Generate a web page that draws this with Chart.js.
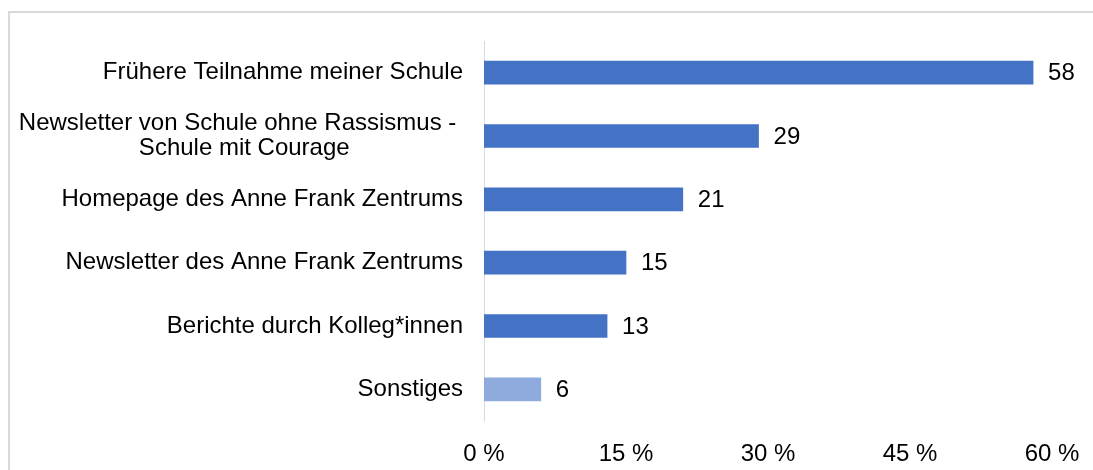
<!DOCTYPE html>
<html>
<head>
<meta charset="utf-8">
<script src="https://cdn.jsdelivr.net/npm/chart.js@4"></script>
<style>
  body { margin: 0; background: #fff; }
  #wrap { position: relative; width: 1093px; height: 470px; overflow: hidden; }
  #frame { position: absolute; left: 8px; top: 11px; width: 1200px; height: 600px;
           border-left: 2px solid #d9d9d9; border-top: 2px solid #d9d9d9; }
  #box { position: absolute; left: 0; top: 0; width: 1093px; height: 470px; }
</style>
</head>
<body>
<div id="wrap">
  <div id="frame"></div>
  <div id="box"><canvas id="myChart"></canvas></div>
</div>
<script>
var categories = [
  'Frühere Teilnahme meiner Schule',
  ['Newsletter von Schule ohne Rassismus - ', 'Schule mit Courage                 '],
  'Homepage des Anne Frank Zentrums',
  'Newsletter des Anne Frank Zentrums',
  'Berichte durch Kolleg*innen',
  'Sonstiges'
];
var values = [58, 29, 21, 15, 13, 6];
var barColors = ['#4472c4', '#4472c4', '#4472c4', '#4472c4', '#4472c4', '#8faadc'];
var xTicks = [0, 15, 30, 45, 60];

var fontFamily = '"Liberation Sans", Arial, sans-serif';

// value labels to the right of each bar
var valueLabels = {
  id: 'valueLabels',
  afterDatasetsDraw: function (chart) {
    var ctx = chart.ctx;
    var meta = chart.getDatasetMeta(0);
    ctx.save();
    ctx.font = '24px ' + fontFamily;
    ctx.fillStyle = '#000';
    ctx.textAlign = 'left';
    ctx.textBaseline = 'middle';
    meta.data.forEach(function (bar, i) {
      ctx.fillText(values[i], bar.x + 15, bar.y + 1);
    });
    ctx.restore();
  }
};

new Chart('myChart', {
  type: 'bar',
  data: {
    labels: categories,
    datasets: [
      {
        data: values,
        backgroundColor: barColors,
        barThickness: 23,
      },
    ],
  },
  options: {
    indexAxis: 'y',
    responsive: true,
    maintainAspectRatio: false,
    animation: false,
    layout: {
      padding: { top: 41, right: 41, bottom: 0, left: 0 },
    },
    plugins: {
      legend: { display: false },
      tooltip: { enabled: false },
    },
    scales: {
      x: {
        min: 0,
        max: 60,
        afterBuildTicks: function (scale) {
          scale.ticks = xTicks.map(function (v) { return { value: v }; });
        },
        afterFit: function (scale) { scale.height = 49; },
        grid: { display: false },
        border: { display: false },
        ticks: {
          color: '#000',
          padding: 11,
          maxRotation: 0,
          font: { size: 24, family: fontFamily },
          callback: function (v) { return v + ' %'; },
        },
      },
      y: {
        afterFit: function (scale) { scale.width = 484; },
        grid: { display: false },
        border: { display: true, color: '#d9d9d9', width: 1 },
        ticks: {
          color: '#000',
          padding: 13,
          font: { size: 24, family: fontFamily, lineHeight: 1.05 },
        },
      },
    },
  },
  plugins: [valueLabels],
});
</script>
</body>
</html>
